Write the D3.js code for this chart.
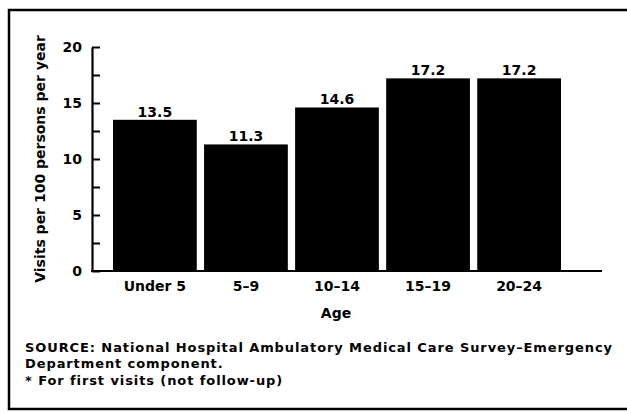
<!DOCTYPE html>
<html>
<head>
<meta charset="utf-8">
<script src="https://cdn.jsdelivr.net/npm/d3@7"></script>
<style>
  html, body { margin: 0; padding: 0; background: #fff; }
  svg { display: block; }
  text { font-family: "DejaVu Sans", "Liberation Sans", Arial, sans-serif; font-weight: bold; fill: #000; }
</style>
</head>
<body>
<svg id="chart" width="627" height="413"></svg>
<script>
const categories = ["Under 5", "5–9", "10–14", "15–19", "20–24"];
const values = [13.5, 11.3, 14.6, 17.2, 17.2];
const valueLabels = ["13.5", "11.3", "14.6", "17.2", "17.2"];
const yTicks = [0, 2.5, 5, 7.5, 10, 12.5, 15, 17.5, 20];
const yTitle = "Visits per 100 persons per year";
const xTitle = "Age";
const notes = [
  "SOURCE: National Hospital Ambulatory Medical Care Survey–Emergency",
  "Department component.",
  "* For first visits (not follow-up)"
];

const svg = d3.select("#chart");

// frame (left, top, bottom; right side runs off the page)
svg.append("path")
  .attr("d", "M640,10 L9,10 L9,409 L640,409")
  .attr("fill", "none").attr("stroke", "#000").attr("stroke-width", 2.5);

const y = d3.scaleLinear().domain([0, 20]).range([271, 47]);
const x = d3.scaleBand().domain(categories).range([113, 561]).paddingInner(0.08).paddingOuter(0);

const axisX0 = 92, axisX1 = 602;

// bars
svg.append("g").selectAll("rect").data(values).join("rect")
  .attr("x", (d, i) => x(categories[i]))
  .attr("width", x.bandwidth())
  .attr("y", d => y(d))
  .attr("height", d => y(0) - y(d))
  .attr("fill", "#000");

// value labels
svg.append("g").selectAll("text").data(values).join("text")
  .attr("x", (d, i) => x(categories[i]) + x.bandwidth() / 2)
  .attr("y", d => y(d) - 3)
  .attr("text-anchor", "middle")
  .style("font-size", "14px")
  .text((d, i) => valueLabels[i]);

// y axis
const yAxis = d3.axisLeft(y).tickValues(yTicks).tickSizeInner(-8).tickSizeOuter(0)
  .tickPadding(10)
  .tickFormat(d => d % 5 === 0 ? d3.format("d")(d) : "");
const gy = svg.append("g").attr("transform", `translate(${axisX0},0)`).call(yAxis);
gy.select(".domain").attr("stroke", "#000").attr("stroke-width", 2.2);
gy.selectAll(".tick line").attr("stroke", "#000").attr("stroke-width", 2);
gy.selectAll(".tick text").style("font-size", "14px").style("font-family", null);

// x axis baseline
svg.append("line")
  .attr("x1", axisX0 - 1).attr("x2", axisX1)
  .attr("y1", y(0)).attr("y2", y(0))
  .attr("stroke", "#000").attr("stroke-width", 2.2);

const xAxis = d3.axisBottom(x).tickSize(0).tickPadding(10);
const gx = svg.append("g").attr("transform", `translate(0,${y(0)})`).call(xAxis);
gx.select(".domain").remove();
gx.selectAll(".tick text").style("font-size", "14px").style("font-family", null);

// axis titles
svg.append("text")
  .attr("transform", `translate(45,${(y(0) + y(20)) / 2}) rotate(-90)`)
  .attr("text-anchor", "middle")
  .style("font-size", "14px")
  .text(yTitle);

svg.append("text")
  .attr("x", x(categories[2]) + x.bandwidth() / 2 - 1)
  .attr("y", 318)
  .attr("text-anchor", "middle")
  .style("font-size", "14px")
  .text(xTitle);

// notes
const noteY = [352, 367.5, 385];
const noteG = svg.append("g");
noteG.selectAll("text").data(notes).join("text")
  .attr("x", 25)
  .attr("y", (d, i) => noteY[i])
  .style("font-size", "13px")
  .text(d => d);
// widen letter spacing so the first line spans the reference width
const first = noteG.select("text").node();
const w = first.getComputedTextLength();
const ls = Math.max(0, Math.min(1.2, (587 - w) / (notes[0].length - 1)));
noteG.selectAll("text").style("letter-spacing", ls + "px");
</script>
</body>
</html>
